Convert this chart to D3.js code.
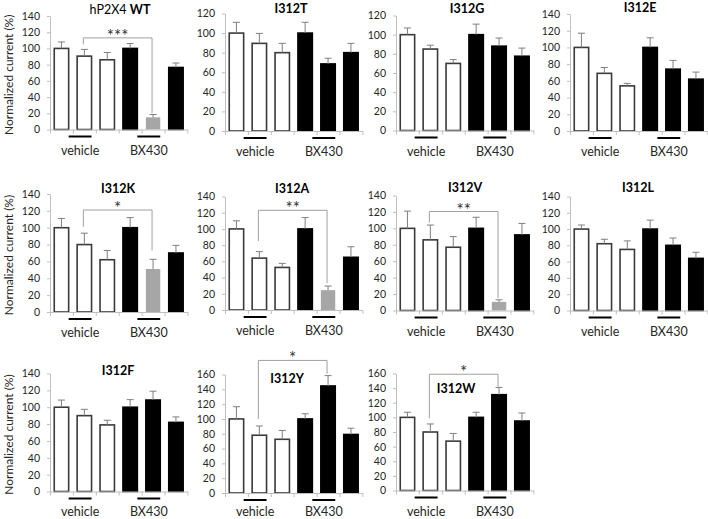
<!DOCTYPE html>
<html>
<head>
<meta charset="utf-8">
<script src="https://cdn.jsdelivr.net/npm/d3@7"></script>
<style>
  body { margin: 0; background: #fff; }
  text { font-family: Lato, "Open Sans", sans-serif; }
</style>
</head>
<body>
<svg id="chart" width="708" height="519"></svg>
<script>
// panel titles (mutants), the two treatment groups, and the six bars per panel
const panelNames = ["hP2X4 WT", "I312T", "I312G", "I312E", "I312K", "I312A",
                    "I312V", "I312L", "I312F", "I312Y", "I312W"];
const groups = ["vehicle", "BX430"];
const bars = ["veh 1", "veh 2", "veh 3", "BX 1", "BX 2", "BX 3"];

// normalized current (%) per bar
const means = [
    [100, 90.5, 86, 100, 15, 76.5],
    [100, 89.5, 80, 100, 68.5, 80],
    [100, 85, 70, 100, 88, 77.5],
    [100, 69, 54, 100, 74, 62],
    [100, 80, 62, 100, 51, 70],
    [100, 64, 52.5, 100, 24.5, 65],
    [100, 86, 77, 100, 10.5, 92],
    [100, 82, 75, 100, 80, 64],
    [100, 90, 79, 100, 108.5, 82],
    [100, 78, 72.5, 100, 144.5, 79],
    [100, 80, 67.5, 100, 131, 95]
];
// upper error (SEM)
const sems = [
    [8, 8.3, 9, 6, 3.5, 5.5],
    [11, 10.2, 9.5, 11, 5.8, 9.5],
    [7, 4, 4, 11, 8.5, 8.5],
    [17, 7, 3, 11.5, 10.5, 8.5],
    [11, 13.5, 11, 12, 11.5, 9],
    [10, 8, 5, 14, 5, 13],
    [21, 18, 13, 13.5, 2.5, 14],
    [5, 5.5, 10.5, 11, 9, 7.5],
    [8.5, 7.5, 5.5, 9, 10.5, 6.5],
    [16.5, 12.5, 12, 7, 14, 8.5],
    [7, 11, 10.5, 7, 10, 11]
];
const yMaxes = [140, 120, 120, 140, 140, 140, 140, 140, 140, 160, 160];
const yTickStep = 20;
// bar drawn in grey (strong inhibition), per panel
const greyBar = [4, -1, -1, -1, 4, 4, 4, -1, -1, -1, -1];
// significance brackets: panel, stars, bracket level and leg ends (data units)
const sigPanels = [0, 4, 5, 6, 9, 10];
const sigStars = ["***", "*", "**", "**", "*", "*"];
const sigLevel = [113, 121, 123, 120.5, 179, 159];
const sigLeftEnd = [105, 101, 85, 107, 100, 98.6];
const sigRightEnd = [20, 73, 33, 15, 161, 142];

// layout: y-axis x, baseline y, y of the axis maximum, title centre
const layout = [
    {x: 50,  bottom: 129.5, top: 16,    tx: 120, ty: 9.3},
    {x: 225, bottom: 131,   top: 13.5,  tx: 291, ty: 8.5},
    {x: 396, bottom: 130.5, top: 15.5,  tx: 467, ty: 8.5},
    {x: 570, bottom: 131,   top: 14,    tx: 640, ty: 7.5},
    {x: 50,  bottom: 312,   top: 194,   tx: 118, ty: 188.3},
    {x: 225, bottom: 310,   top: 196.5, tx: 292, ty: 188.3},
    {x: 396, bottom: 310.5, top: 195.5, tx: 465, ty: 187},
    {x: 570, bottom: 310.5, top: 196.5, tx: 638, ty: 187.3},
    {x: 50,  bottom: 491.5, top: 373.5, tx: 118, ty: 370},
    {x: 225, bottom: 493,   top: 374.5, tx: 287, ty: 378.3},
    {x: 396, bottom: 490.5, top: 373.5, tx: 456, ty: 388.3}
];

const step = 22.9;
const bw = 14.4;
const svg = d3.select("#chart");

panelNames.forEach((name, p) => {
    const L = layout[p];
    const g = svg.append("g");
    const pad = 1 - bw / step;

    const x = d3.scaleBand()
        .domain(bars)
        .range([L.x, L.x + 6 * step])
        .paddingInner(pad)
        .paddingOuter(pad / 2);
    const y = d3.scaleLinear().domain([0, yMaxes[p]]).range([L.bottom, L.top]);

    // y axis
    const yAxis = g.append("g")
        .attr("transform", `translate(${L.x},0)`)
        .call(d3.axisLeft(y)
            .tickValues(d3.range(0, yMaxes[p] + 1, yTickStep))
            .tickSize(3)
            .tickSizeOuter(0)
            .tickPadding(7));
    yAxis.select(".domain").attr("stroke", "#bfbfbf");
    yAxis.selectAll(".tick line").attr("stroke", "#bfbfbf");
    yAxis.selectAll(".tick text")
        .attr("fill", "#262626")
        .style("font-size", "10.5px")
        .style("font-family", "Lato, sans-serif");

    // bars
    g.selectAll("rect.bar")
        .data(means[p])
        .join("rect")
        .attr("class", "bar")
        .attr("x", (d, i) => x(bars[i]))
        .attr("y", d => y(d))
        .attr("width", x.bandwidth())
        .attr("height", d => L.bottom - y(d))
        .attr("fill", (d, i) => i === greyBar[p] ? "#a6a6a6" : (i < 3 ? "#fff" : "#000"))
        .attr("stroke", (d, i) => i === greyBar[p] ? "none" : (i < 3 ? "#3a3a3a" : "#000"))
        .attr("stroke-width", 1.6);

    // x axis (category boundaries)
    const xb = d3.scaleLinear().domain([0, 6]).range([L.x, L.x + 6 * step]);
    const xAxis = g.append("g")
        .attr("transform", `translate(0,${L.bottom})`)
        .call(d3.axisBottom(xb).ticks(6).tickFormat("").tickSize(4).tickSizeOuter(0));
    xAxis.select(".domain").attr("stroke", "#bfbfbf");
    xAxis.selectAll(".tick line").attr("stroke", "#bfbfbf");

    // error bars
    const eb = g.selectAll("g.err")
        .data(means[p])
        .join("g")
        .attr("class", "err")
        .attr("stroke", "#7f7f7f")
        .attr("stroke-width", 1);
    eb.append("line")
        .attr("x1", (d, i) => x(bars[i]) + bw / 2)
        .attr("x2", (d, i) => x(bars[i]) + bw / 2)
        .attr("y1", d => y(d))
        .attr("y2", (d, i) => y(d + sems[p][i]));
    eb.append("line")
        .attr("x1", (d, i) => x(bars[i]) + bw / 2 - 3.5)
        .attr("x2", (d, i) => x(bars[i]) + bw / 2 + 3.5)
        .attr("y1", (d, i) => y(d + sems[p][i]))
        .attr("y2", (d, i) => y(d + sems[p][i]));

    // group underlines and labels
    groups.forEach((gr, k) => {
        const x1 = x(bars[3 * k]) + bw;
        const x2 = x(bars[3 * k + 1]) + bw;
        g.append("line")
            .attr("x1", x1).attr("x2", x2)
            .attr("y1", L.bottom + 7).attr("y2", L.bottom + 7)
            .attr("stroke", "#000")
            .attr("stroke-width", 2);
        g.append("text")
            .attr("x", (x1 + x2) / 2)
            .attr("y", Math.min(L.bottom + 25, 515.5))
            .attr("text-anchor", "middle")
            .attr("fill", "#262626")
            .style("font-size", "12.5px")
            .text(gr);
    });

    // title
    const t = g.append("text")
        .attr("x", L.tx)
        .attr("y", L.ty + 4.5)
        .attr("text-anchor", "middle")
        .attr("fill", "#000")
        .style("font-size", "12.5px");
    if (name.indexOf(" ") > 0) {
        const parts = name.split(" ");
        t.append("tspan").text(parts[0] + " ");
        t.append("tspan").style("font-weight", "bold").text(parts[1]);
    } else {
        t.style("font-weight", "bold").text(name);
    }

    // y label on first column
    if (L.x < 100) {
        g.append("text")
            .attr("transform", `translate(12.5,${(L.bottom + L.top) / 2 + 2}) rotate(-90)`)
            .attr("text-anchor", "middle")
            .attr("fill", "#262626")
            .style("font-size", "12px")
            .text("Normalized current (%)");
    }

    // significance bracket
    const s = sigPanels.indexOf(p);
    if (s >= 0) {
        const xl = x(bars[1]) + bw / 2 - 1;
        const xr = x(bars[4]) + bw / 2 - 1;
        g.append("path")
            .attr("d", `M${xl},${y(sigLeftEnd[s])}V${y(sigLevel[s])}H${xr}V${y(sigRightEnd[s])}`)
            .attr("fill", "none")
            .attr("stroke", "#a0a0a0")
            .attr("stroke-width", 1);
        g.append("text")
            .attr("x", (xl + xr) / 2)
            .attr("y", y(sigLevel[s]) + 4)
            .attr("text-anchor", "middle")
            .attr("fill", "#333")
            .style("font-size", "17px")
            .text(sigStars[s]);
    }
});
</script>
</body>
</html>
